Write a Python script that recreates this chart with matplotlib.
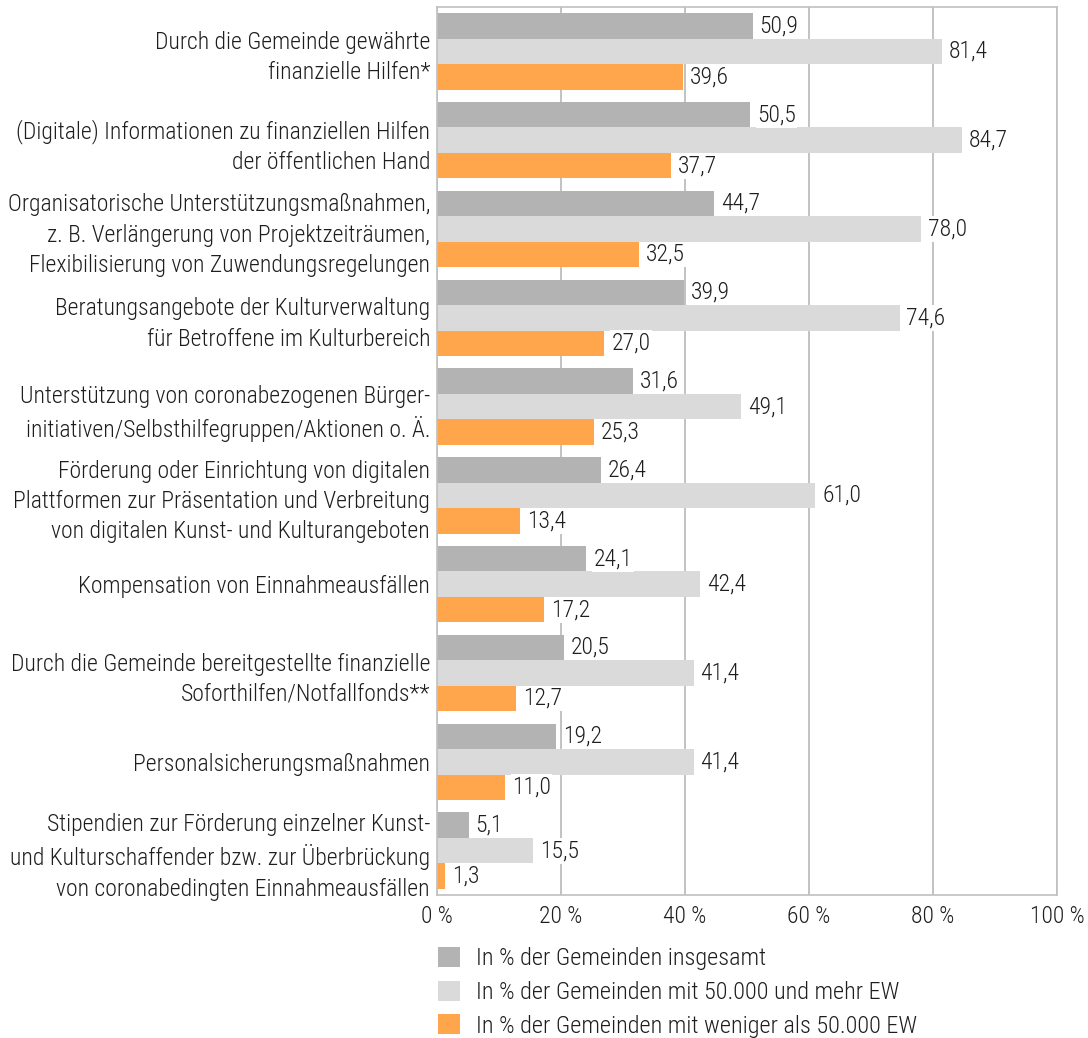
import matplotlib
matplotlib.use("Agg")
import matplotlib.pyplot as plt
from matplotlib.patches import Patch
from matplotlib import font_manager
import numpy as np

categories = [
    "Durch die Gemeinde gewährte\nfinanzielle Hilfen*",
    "(Digitale) Informationen zu finanziellen Hilfen\nder öffentlichen Hand",
    "Organisatorische Unterstützungsmaßnahmen,\nz. B. Verlängerung von Projektzeiträumen,\nFlexibilisierung von Zuwendungsregelungen",
    "Beratungsangebote der Kulturverwaltung\nfür Betroffene im Kulturbereich",
    "Unterstützung von coronabezogenen Bürger-\ninitiativen/Selbsthilfegruppen/Aktionen o. Ä.",
    "Förderung oder Einrichtung von digitalen\nPlattformen zur Präsentation und Verbreitung\nvon digitalen Kunst- und Kulturangeboten",
    "Kompensation von Einnahmeausfällen",
    "Durch die Gemeinde bereitgestellte finanzielle\nSoforthilfen/Notfallfonds**",
    "Personalsicherungsmaßnahmen",
    "Stipendien zur Förderung einzelner Kunst-\nund Kulturschaffender bzw. zur Überbrückung\nvon coronabedingten Einnahmeausfällen",
]
overall = [50.9, 50.5, 44.7, 39.9, 31.6, 26.4, 24.1, 20.5, 19.2, 5.1]
large = [81.4, 84.7, 78.0, 74.6, 49.1, 61.0, 42.4, 41.4, 41.4, 15.5]
small = [39.6, 37.7, 32.5, 27.0, 25.3, 13.4, 17.2, 12.7, 11.0, 1.3]
series_names = [
    "In % der Gemeinden insgesamt",
    "In % der Gemeinden mit 50.000 und mehr EW",
    "In % der Gemeinden mit weniger als 50.000 EW",
]
xticks = [0, 20, 40, 60, 80, 100]
xtick_labels = ["0 %", "20 %", "40 %", "60 %", "80 %", "100 %"]

names = {f.name for f in font_manager.fontManager.ttflist}
prefs = ["Roboto Condensed", "Archivo Narrow", "PT Sans Narrow", "Fira Sans Condensed",
         "IBM Plex Sans Condensed", "Open Sans Condensed", "Barlow Semi Condensed",
         "Encode Sans Condensed", "Liberation Sans Narrow", "Pragati Narrow"]
chosen = next((p for p in prefs if p in names), "DejaVu Sans")
plt.rcParams["font.family"] = [chosen, "DejaVu Sans"]
weights = sorted({f.weight for f in font_manager.fontManager.ttflist if f.name == chosen and f.style == "normal"})
WEIGHT = 300 if 300 in weights else "normal"
plt.rcParams["font.weight"] = WEIGHT

colors = ["#b3b3b3", "#dadada", "#ffa64d"]
FS = 17
LFS = 17.5
TC = "#1e1e1e"

fig = plt.figure(figsize=(10.88, 10.38), dpi=100)
ax = fig.add_axes([437/1088, 1 - 895/1038, (1057-437)/1088, (895-7)/1038])

n = len(categories)
y = np.arange(n)
h = 0.287
for i, (vals, c) in enumerate(zip([overall, large, small], colors)):
    pos = y + (i - 1) * h
    ax.barh(pos, vals, height=h, color=c, edgecolor="none", zorder=2)
    for p, v in zip(pos, vals):
        ax.annotate(f"{v:.1f}".replace(".", ","), (v, p), xytext=(5, 0),
                    textcoords="offset points", va="center", ha="left",
                    fontsize=FS, color=TC, zorder=3,
                    bbox=dict(facecolor="white", edgecolor="none", pad=1.0))

ax.set_ylim(n - 0.5, -0.5)
ax.set_xlim(0, 100)
ax.set_yticks(y)
ax.set_yticklabels(categories, fontsize=FS, linespacing=1.4, color=TC)
ax.set_xticks(xticks)
ax.set_xticklabels(xtick_labels, fontsize=FS, color=TC)
ax.tick_params(axis="both", length=0, pad=5)
ax.tick_params(axis="x", pad=7)
ax.grid(axis="x", color="#b8b8b8", linewidth=1.2, zorder=0)
ax.set_axisbelow(True)
for s in ax.spines.values():
    s.set_color("#c0c0c0")
    s.set_linewidth(1.2)

handles = [Patch(facecolor=c, edgecolor="none") for c in colors]
fig.legend(handles, series_names, loc="upper left",
           bbox_to_anchor=(416/1088, 1 - 925/1038), frameon=False,
           fontsize=LFS, handlelength=0.9, handleheight=0.9,
           handletextpad=0.65, labelspacing=0.42, labelcolor=TC)

fig.savefig("out.png", dpi=100)
